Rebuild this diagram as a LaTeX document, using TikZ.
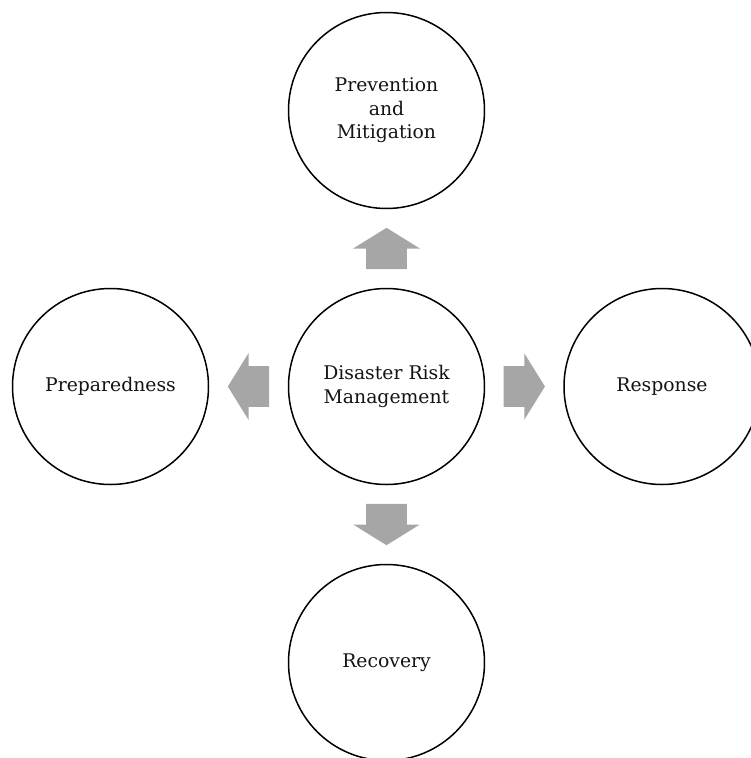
\documentclass[tikz,border=0pt]{standalone}
\usepackage{fontspec}
\setmainfont{DejaVu Serif}
\usetikzlibrary{calc}
\definecolor{arrowgray}{RGB}{166,166,166}
\definecolor{inkgray}{RGB}{20,20,20}
\tikzset{
  phase/.style={circle, draw=black, line width=1.5pt, fill=white,
    minimum size=196pt, inner sep=0pt, align=center, text=inkgray,
    font=\fontsize{18.8pt}{23.5pt}\selectfont},
  blockarrow/.pic={
    \fill[arrowgray] (-20.7,-20.3) -- (0,-20.3) -- (0,-33.3) -- (20.7,0)
      -- (0,33.3) -- (0,20.3) -- (-20.7,20.3) -- cycle;
  }
}
\begin{document}
\begin{tikzpicture}[x=1pt, y=-1pt]
  \useasboundingbox (0,0) rectangle (751,758);
  % the cycle: management in the middle, four phases around it
  \node[phase] (dm)  at (386.5,386.5) {Disaster Risk\\Management};
  \node[phase] (pm)  at (386.5,110.5) {Prevention\\and\\Mitigation};
  \node[phase] (prep) at (110.5,386.5) {Preparedness};
  \node[phase] (resp) at (662,386.5) {Response};
  \node[phase] (rec) at (386.5,662.5) {Recovery};
  % block arrows pointing outwards from the centre
  \coordinate (aup)    at ($(dm)!0.5!(pm)$);
  \coordinate (aleft)  at ($(dm)!0.5!(prep)$);
  \coordinate (aright) at ($(dm)!0.5!(resp)$);
  \coordinate (adown)  at ($(dm)!0.5!(rec)$);
  \pic[rotate=90]  at (aup)    {blockarrow};
  \pic[rotate=180] at (aleft)  {blockarrow};
  \pic             at (aright) {blockarrow};
  \pic[rotate=-90] at (adown)  {blockarrow};
\end{tikzpicture}
\end{document}
